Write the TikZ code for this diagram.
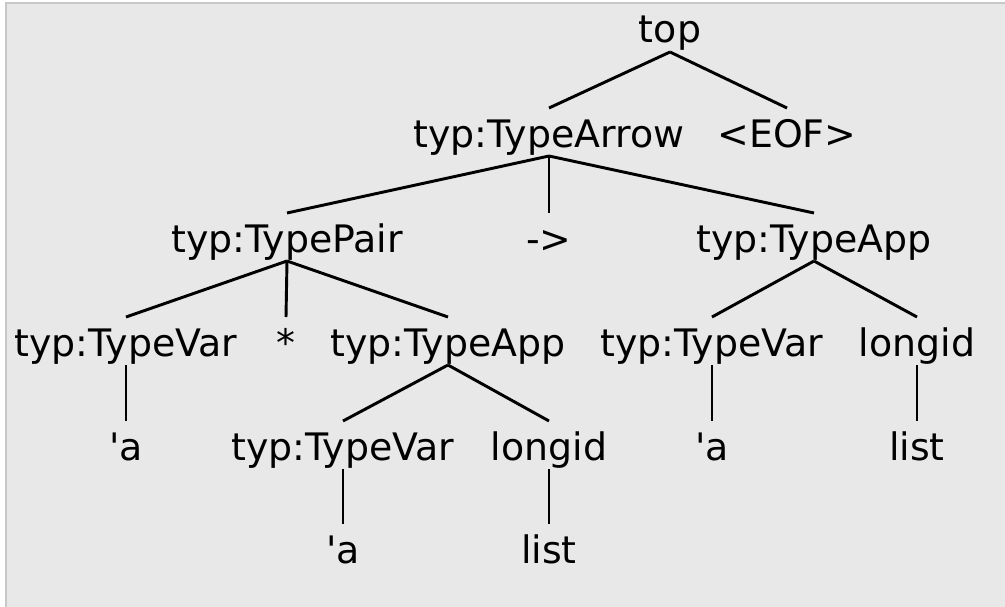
\documentclass[tikz,border=0pt]{standalone}
\usepackage{fontspec}
\newfontfamily\plainfont{DejaVu Sans}
\definecolor{bgfill}{HTML}{E8E8E8}
\definecolor{bgedge}{HTML}{C8C8C8}
\begin{document}
\begin{tikzpicture}[x=0.75pt,y=-0.75pt,
  lbl/.style={inner sep=0pt,anchor=base,font=\plainfont\fontsize{28.4pt}{34pt}\selectfont},
  edge/.style={line width=2.2pt}]
\useasboundingbox (0,0) rectangle (1005,606);
\fill[white] (0,0) rectangle (1005,606);
\draw[fill=bgfill,draw=bgedge,line width=1.5pt] (6,3) rectangle (1012,612);
% row 1
\node[lbl] (top) at (670,43) {top};
% row 2
\node[lbl] (arrow) at (549,147) {typ:TypeArrow};
\node[lbl] (eof) at (787,147) {<EOF>};
% row 3
\node[lbl] (pair) at (287,252) {typ:TypePair};
\node[lbl] (to) at (549,252) {->};
\node[lbl] (appR) at (814,252) {typ:TypeApp};
% row 4
\node[lbl] (varL) at (126,356) {typ:TypeVar};
\node[lbl] (star) at (286,356) {*};
\node[lbl] (appL) at (448,356) {typ:TypeApp};
\node[lbl] (varR) at (712,356) {typ:TypeVar};
\node[lbl] (longR) at (917,356) {longid};
% row 5
\node[lbl] (aL) at (126,460) {'a};
\node[lbl] (varM) at (343,460) {typ:TypeVar};
\node[lbl] (longM) at (549,460) {longid};
\node[lbl] (aR) at (712,460) {'a};
\node[lbl] (listR) at (917,460) {list};
% row 6
\node[lbl] (aM) at (343,563) {'a};
\node[lbl] (listM) at (549,563) {list};
% connectors
\foreach \p/\c in {top/arrow, top/eof,
  arrow/pair, arrow/to, arrow/appR,
  pair/varL, pair/star, pair/appL,
  appR/varR, appR/longR,
  varL/aL, appL/varM, appL/longM,
  varR/aR, longR/listR,
  varM/aM, longM/listM}
  \draw[edge] ([yshift=-6.75pt]\p.base) -- ([yshift=29.25pt]\c.base);
\end{tikzpicture}
\end{document}
